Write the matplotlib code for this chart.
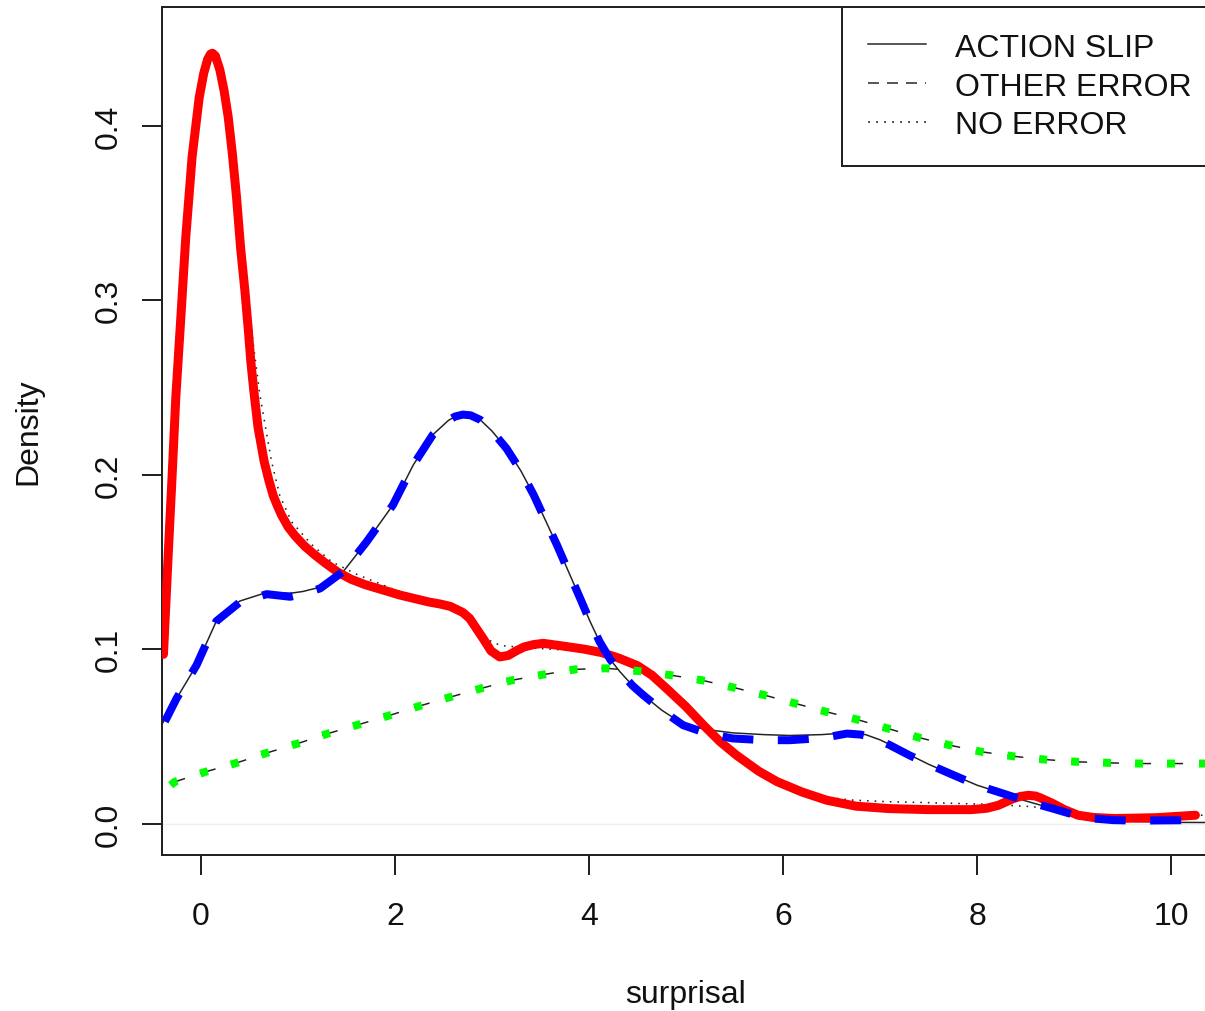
#!/usr/bin/env python3
"""
Surprisal density curves per outcome, two estimates overlaid:
thick coloured lines and thin black reference lines.
"""
import matplotlib
matplotlib.use('Agg')
import matplotlib.pyplot as plt
from matplotlib.lines import Line2D

plt.rcParams['font.family'] = ['Liberation Sans', 'DejaVu Sans']
plt.rcParams['lines.scale_dashes'] = False

X_TICKS = [0, 2, 4, 6, 8, 10]
Y_TICKS = [0.0, 0.1, 0.2, 0.3, 0.4]
LEGEND_LABELS = ["ACTION SLIP", "OTHER ERROR", "NO ERROR"]

# thick red (solid)
RED_X = [-0.385, -0.337, -0.296, -0.258, -0.206, -0.155, -0.09, -0.017, 0.03, 0.07,
         0.1, 0.12, 0.15, 0.196, 0.24, 0.282, 0.325, 0.368, 0.41, 0.455,
         0.488, 0.515, 0.55, 0.59, 0.653, 0.70, 0.746, 0.79, 0.83, 0.9,
         0.97, 1.07, 1.175, 1.29, 1.415, 1.55, 1.69, 1.87, 2.05, 2.2,
         2.35, 2.47, 2.57, 2.7, 2.77, 2.85, 2.91, 2.99, 3.08, 3.17,
         3.25, 3.33, 3.43, 3.53, 3.7, 3.85, 3.95, 4.13, 4.3, 4.5,
         4.65, 4.8, 5.0, 5.18, 5.35, 5.52, 5.75, 5.94, 6.2, 6.45,
         6.75, 7.09, 7.5, 7.94, 8.1, 8.22, 8.3, 8.37, 8.45, 8.53,
         8.6, 8.65, 8.78, 8.9, 9.04, 9.2, 9.42, 9.85, 10.25]
RED_Y = [0.097, 0.153, 0.199, 0.244, 0.290, 0.336, 0.382, 0.416, 0.430, 0.438,
         0.441, 0.4415, 0.440, 0.432, 0.420, 0.405, 0.384, 0.359, 0.33, 0.305,
         0.284, 0.265, 0.246, 0.227, 0.2075, 0.197, 0.188, 0.182, 0.177, 0.170,
         0.165, 0.159, 0.154, 0.149, 0.144, 0.140, 0.137, 0.134, 0.131, 0.129,
         0.127, 0.1258, 0.1245, 0.121, 0.1176, 0.111, 0.106, 0.099, 0.0955, 0.0964,
         0.099, 0.1012, 0.1026, 0.1033, 0.102, 0.1008, 0.100, 0.098, 0.095, 0.0905,
         0.085, 0.0774, 0.067, 0.0564, 0.047, 0.0392, 0.030, 0.024, 0.018, 0.0134,
         0.010, 0.0086, 0.008, 0.008, 0.0088, 0.0105, 0.0125, 0.0143, 0.0156, 0.0162,
         0.0158, 0.0148, 0.0115, 0.008, 0.0048, 0.0035, 0.0029, 0.0034, 0.0048]

# thin black dotted, close to the red curve
DOT_X = [-0.385, -0.337, -0.296, -0.258, -0.206, -0.155, -0.09, -0.017, 0.058, 0.12,
         0.2, 0.3, 0.4, 0.47, 0.54, 0.608, 0.667, 0.729, 0.814, 0.935,
         1.14, 1.35, 1.62, 2.0, 2.35, 2.6, 2.75, 2.9, 3.0, 3.1,
         3.3, 3.6, 3.9, 4.1, 4.3, 4.5, 4.8, 5.0, 5.18, 5.52,
         5.94, 6.2, 6.45, 6.7, 7.1, 7.5, 8.15, 8.57, 9.0, 9.3,
         9.63, 10.0, 10.45]
DOT_Y = [0.097, 0.153, 0.199, 0.244, 0.290, 0.336, 0.382, 0.415, 0.435, 0.438,
         0.430, 0.400, 0.350, 0.310, 0.275, 0.246, 0.227, 0.2075, 0.188, 0.173,
         0.160, 0.150, 0.1425, 0.134, 0.128, 0.123, 0.117, 0.109, 0.104, 0.102,
         0.101, 0.100, 0.099, 0.097, 0.094, 0.0905, 0.077, 0.067, 0.056, 0.039,
         0.024, 0.019, 0.015, 0.0135, 0.0125, 0.012, 0.011, 0.0097, 0.0065, 0.005,
         0.0048, 0.0048, 0.0048]

# thick blue (dashed)
BLUE_X = [-0.37, -0.25, -0.044, 0.16, 0.40, 0.68, 0.92, 1.05, 1.23, 1.47,
          1.71, 1.98, 2.19, 2.39, 2.55, 2.62, 2.7, 2.78, 2.88, 3.0,
          3.15, 3.3, 3.43, 3.55, 3.67, 3.8, 3.91, 4.01, 4.11, 4.22,
          4.32, 4.45, 4.56, 4.75, 4.97, 5.2, 5.48, 5.8, 6.07, 6.4,
          6.66, 6.8, 6.91, 7.1, 7.3, 7.5, 7.76, 8.0, 8.27, 8.5,
          8.78, 9.0, 9.2, 9.4, 9.63, 10.05, 10.25]
BLUE_Y = [0.0585, 0.0717, 0.0908, 0.116, 0.1268, 0.1315, 0.130, 0.1315, 0.1348, 0.1446,
          0.1616, 0.1826, 0.2056, 0.2228, 0.231, 0.2333, 0.2344, 0.234, 0.2314, 0.225,
          0.215, 0.202, 0.1884, 0.174, 0.1597, 0.143, 0.129, 0.116, 0.1042, 0.094,
          0.087, 0.079, 0.0736, 0.065, 0.0564, 0.052, 0.0488, 0.0478, 0.0478, 0.049,
          0.0516, 0.051, 0.0497, 0.045, 0.0392, 0.034, 0.0277, 0.022, 0.0172, 0.013,
          0.0086, 0.005, 0.0029, 0.002, 0.0017, 0.0019, 0.002]

# thin black solid, close to the blue curve
SOLID_X = [-0.4, -0.25, -0.044, 0.16, 0.40, 0.68, 0.92, 1.05, 1.23, 1.47,
           1.71, 1.98, 2.19, 2.39, 2.55, 2.62, 2.7, 2.78, 2.88, 3.0,
           3.15, 3.3, 3.43, 3.55, 3.67, 3.8, 3.91, 4.01, 4.11, 4.22,
           4.32, 4.45, 4.56, 4.75, 4.97, 5.2, 5.48, 5.8, 6.07, 6.4,
           6.66, 6.85, 7.0, 7.15, 7.3, 7.5, 7.76, 8.0, 8.27, 8.5,
           8.78, 9.0, 9.2, 9.63, 10.0, 10.45]
SOLID_Y = [0.057, 0.0717, 0.0908, 0.116, 0.1275, 0.1325, 0.132, 0.133, 0.1355, 0.1446,
           0.1616, 0.1826, 0.2056, 0.2228, 0.231, 0.2333, 0.2344, 0.234, 0.2314, 0.225,
           0.215, 0.202, 0.1884, 0.174, 0.1597, 0.143, 0.129, 0.116, 0.1042, 0.094,
           0.087, 0.079, 0.0736, 0.065, 0.057, 0.054, 0.052, 0.051, 0.0505, 0.051,
           0.052, 0.051, 0.048, 0.044, 0.0395, 0.034, 0.0277, 0.022, 0.0172, 0.013,
           0.0086, 0.005, 0.003, 0.0012, 0.0007, 0.0006]

# thick green (dotted) and its thin black dashed twin
GREEN_X = [-0.31, -0.27, 0.05, 0.37, 0.68, 1.0, 1.31, 1.63, 1.95, 2.26,
           2.57, 2.89, 3.21, 3.54, 3.86, 4.18, 4.51, 4.84, 5.16, 5.49,
           5.81, 6.13, 6.45, 6.76, 7.08, 7.40, 7.72, 8.05, 8.37, 8.70,
           9.03, 9.36, 9.69, 10.02, 10.33, 10.45]
GREEN_Y = [0.022, 0.0239, 0.0297, 0.0348, 0.0405, 0.0459, 0.0516, 0.0568, 0.0621, 0.0675,
           0.0725, 0.0775, 0.0822, 0.0855, 0.0884, 0.089, 0.0874, 0.0851, 0.0822, 0.078,
           0.0736, 0.0688, 0.064, 0.0597, 0.0545, 0.0493, 0.0449, 0.0411, 0.0386, 0.0367,
           0.0354, 0.0348, 0.0344, 0.0344, 0.0344, 0.0344]

DPI = 100
W, H = 1205, 1012
PX = 0.72  # points per pixel at 100 dpi
INK = '#222222'


def main():
    fig = plt.figure(figsize=(W / DPI, H / DPI), dpi=DPI)
    # plot region runs a few pixels past the right edge of the canvas
    left, right, top, bottom = 162, 1210, 8, 856
    ax = fig.add_axes([left / W, (H - bottom) / H, (right - left) / W, (bottom - top) / H])

    ax.axhline(0, color='#efefef', lw=1.0, zorder=1)

    # thin reference lines underneath
    ax.plot(DOT_X, DOT_Y, color=INK, lw=1.6 * PX, linestyle=(0, (1.6 * PX, 6 * PX)), zorder=2)
    ax.plot(SOLID_X, SOLID_Y, color=INK, lw=1.5 * PX, zorder=2)
    ax.plot(GREEN_X, GREEN_Y, color=INK, lw=1.5 * PX, linestyle=(0, (16 * PX, 16 * PX)), zorder=2)

    # thick coloured curves on top
    ax.plot(RED_X, RED_Y, color='#ff0000', lw=9 * PX, solid_capstyle='round',
            solid_joinstyle='round', zorder=3)
    ax.plot(BLUE_X, BLUE_Y, color='#0000ff', lw=8 * PX, linestyle=(0, (31 * PX, 24.5 * PX)),
            dash_capstyle='butt', dash_joinstyle='round', zorder=4)
    ax.plot(GREEN_X, GREEN_Y, color='#00ff00', lw=8 * PX, linestyle=(0, (8 * PX, 24 * PX)),
            dash_capstyle='butt', zorder=5)

    ax.set_xlim(-0.4, 10.4)
    ax.set_ylim(-0.018, 0.468)
    ax.set_xticks(X_TICKS)
    ax.set_xticklabels([str(t) for t in X_TICKS])
    ax.set_yticks(Y_TICKS)
    ax.set_yticklabels([f"{t:.1f}" for t in Y_TICKS])

    for side in ['left', 'top', 'bottom']:
        ax.spines[side].set_linewidth(2 * PX)
        ax.spines[side].set_color(INK)
    ax.spines['right'].set_visible(False)

    ax.tick_params(axis='both', length=20 * PX, width=2 * PX, color=INK,
                   labelsize=23, labelcolor='#111111')
    ax.tick_params(axis='x', pad=19)
    ax.tick_params(axis='y', pad=13)
    for lab in ax.get_yticklabels():
        lab.set_rotation(90)
        lab.set_va('center')

    ax.set_xlabel("surprisal", fontsize=23, color='#111111')
    ax.set_ylabel("Density", fontsize=23, color='#111111')
    ax.xaxis.set_label_coords(0.5, (bottom - 980) / (bottom - top))
    ax.yaxis.set_label_coords((43 - left) / (right - left), 0.5)

    handles = [
        Line2D([], [], color=INK, lw=1.5 * PX),
        Line2D([], [], color=INK, lw=1.5 * PX, linestyle=(0, (11 * PX, 8 * PX))),
        Line2D([], [], color=INK, lw=1.5 * PX, linestyle=(0, (2 * PX, 6 * PX))),
    ]
    leg = ax.legend(handles, LEGEND_LABELS, loc='upper right',
                    bbox_to_anchor=((1217 - left) / (right - left), 1.0),
                    borderaxespad=0, fancybox=False, framealpha=1, edgecolor=INK,
                    fontsize=23, handlelength=1.82, handletextpad=0.91,
                    borderpad=0.8, labelspacing=0.28)
    leg.get_frame().set_linewidth(2 * PX)
    for t in leg.get_texts():
        t.set_color('#111111')

    fig.savefig('out.png', dpi=DPI)


if __name__ == "__main__":
    main()
